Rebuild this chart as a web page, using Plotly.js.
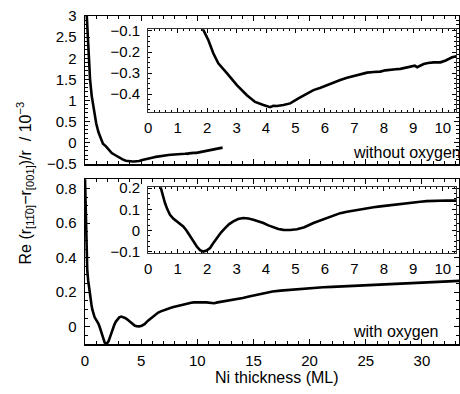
<!DOCTYPE html>
<html>
<head>
<meta charset="utf-8">
<script src="https://cdn.plot.ly/plotly-3.0.1.min.js"></script>
<style>html,body{margin:0;padding:0;background:#fff;}#chart{width:460px;height:394px;}</style>
</head>
<body>
<div id="chart"></div>
<script>
// Without oxygen: Ni thickness (ML) and Re signal (10^-3)
const noOxThickness = [0.15,0.25,0.35,0.45,0.6,0.8,1.0,1.2,1.4,1.6,1.87,2.04,2.21,2.38,2.67,3.01,3.35,3.63,3.91,4.14,4.25,4.37,4.59,4.82,5.10,5.35,5.61,5.85,6.07,6.3,6.52,6.75,6.97,7.2,7.43,7.65,7.88,8.05,8.22,8.4,8.56,8.75,8.90,9.05,9.13,9.25,9.35,9.5,9.69,9.92,10.1,10.32,10.6,11.0,11.5,12.0,12.25];
const noOxSignal = [3.05,2.5,2.0,1.5,1.1,0.72,0.45,0.24,0.08,-0.03,-0.095,-0.143,-0.206,-0.254,-0.30,-0.357,-0.405,-0.437,-0.452,-0.462,-0.455,-0.456,-0.452,-0.444,-0.42,-0.40,-0.381,-0.37,-0.357,-0.345,-0.333,-0.322,-0.314,-0.305,-0.298,-0.295,-0.293,-0.287,-0.283,-0.282,-0.28,-0.274,-0.27,-0.265,-0.272,-0.262,-0.257,-0.252,-0.249,-0.249,-0.24,-0.225,-0.215,-0.195,-0.17,-0.145,-0.125];

// With oxygen
const oxThickness = [0.0,0.05,0.1,0.15,0.2,0.28,0.35,0.43,0.5,0.57,0.65,0.74,0.85,0.97,1.08,1.19,1.3,1.42,1.55,1.65,1.76,1.87,1.98,2.1,2.2,2.33,2.47,2.61,2.75,2.89,3.05,3.23,3.4,3.57,3.75,3.91,4.08,4.25,4.42,4.59,4.82,5.05,5.3,5.61,5.85,6.07,6.3,6.52,6.75,6.97,7.2,7.43,7.65,7.88,8.1,8.33,8.55,8.79,9.0,9.24,9.45,9.69,9.9,10.15,10.37,10.8,11.2,11.5,11.8,12.3,12.86,13.5,14.05,14.6,15.24,16.0,16.7,17.4,18.2,19.0,19.7,20.5,21.2,22.0,22.7,23.5,24.2,25.0,25.7,26.4,27.1,27.9,28.6,29.4,30.1,30.9,31.6,32.4,33.1,33.4];
const oxSignal = [0.86,0.7,0.52,0.4,0.33,0.27,0.23,0.2,0.16,0.13,0.1,0.074,0.056,0.043,0.032,0.019,0.0,-0.028,-0.055,-0.076,-0.093,-0.1,-0.095,-0.083,-0.062,-0.036,-0.01,0.011,0.03,0.043,0.054,0.059,0.057,0.051,0.043,0.035,0.024,0.014,0.007,0.003,0.002,0.006,0.015,0.035,0.048,0.059,0.071,0.082,0.089,0.095,0.101,0.106,0.11,0.114,0.118,0.122,0.125,0.13,0.132,0.136,0.139,0.141,0.142,0.142,0.141,0.141,0.14,0.136,0.141,0.146,0.152,0.158,0.166,0.175,0.185,0.195,0.204,0.209,0.214,0.219,0.224,0.227,0.229,0.231,0.233,0.235,0.237,0.239,0.241,0.243,0.245,0.247,0.249,0.25,0.252,0.255,0.258,0.261,0.264,0.266];

const labels = {
  yTitle: 'Re (r<sub>[11\u03050]</sub>\u2212r<sub>[001]</sub>)/r  / 10<sup>\u22123</sup>',
  xTitle: 'Ni thickness (ML)',
  noOx: 'without oxygen',
  ox: 'with oxygen'
};

const FONT = 'Liberation Sans, Arial, Helvetica, sans-serif';
const line = {color: '#000', width: 2.6};

const traces = [
  {x: noOxThickness, y: noOxSignal, xaxis: 'x', yaxis: 'y', mode: 'lines', line: line, hoverinfo: 'skip'},
  {x: oxThickness, y: oxSignal, xaxis: 'x2', yaxis: 'y2', mode: 'lines', line: line, hoverinfo: 'skip'},
  {x: noOxThickness, y: noOxSignal, xaxis: 'x3', yaxis: 'y3', mode: 'lines', line: line, hoverinfo: 'skip'},
  {x: oxThickness, y: oxSignal, xaxis: 'x4', yaxis: 'y4', mode: 'lines', line: line, hoverinfo: 'skip'}
];

function mainAx(extra) {
  return Object.assign({
    showline: true, linecolor: '#000', linewidth: 1.5, mirror: 'allticks',
    ticks: 'inside', ticklen: 5, tickwidth: 1, tickcolor: '#000',
    showgrid: false, zeroline: false,
    tickfont: {family: FONT, size: 15, color: '#000'},
    minor: {ticks: 'inside', ticklen: 3, tickcolor: '#000', showgrid: false}
  }, extra);
}
function insetAx(extra) {
  return Object.assign({
    showline: true, linecolor: '#333', linewidth: 1, mirror: 'allticks',
    ticks: 'inside', ticklen: 4, tickwidth: 1, tickcolor: '#000',
    showgrid: false, zeroline: false,
    tickfont: {family: FONT, size: 15, color: '#000'},
    minor: {ticks: 'inside', ticklen: 2, tickcolor: '#000', showgrid: false}
  }, extra);
}

const layout = {
  width: 460, height: 394,
  margin: {l: 85, r: 1, t: 16, b: 50},
  paper_bgcolor: '#fff', plot_bgcolor: '#fff',
  showlegend: false,
  font: {family: FONT, size: 15, color: '#000'},
  xaxis: mainAx({domain: [0, 1], anchor: 'y', range: [0, 33.3], dtick: 5, showticklabels: false, minor: {ticks: 'inside', ticklen: 3, dtick: 1, tickcolor: '#000'}}),
  yaxis: mainAx({domain: [0.548, 1], anchor: 'x', range: [-0.52, 3.005], dtick: 0.5, ticklabelstandoff: 4, minor: {ticks: 'inside', ticklen: 3, dtick: 0.1, tickcolor: '#000'}}),
  xaxis2: mainAx({domain: [0, 1], anchor: 'y2', range: [0, 33.3], dtick: 5, ticklabelstandoff: 2, minor: {ticks: 'inside', ticklen: 3, dtick: 1, tickcolor: '#000'}}),
  yaxis2: mainAx({domain: [0, 0.5026], anchor: 'x2', range: [-0.1, 0.855], dtick: 0.2, ticklabelstandoff: 4, minor: {ticks: 'inside', ticklen: 3, dtick: 0.05, tickcolor: '#000'}}),
  xaxis3: insetAx({domain: [0.169, 0.992], anchor: 'y3', range: [0, 10.45], dtick: 1, ticklabelstandoff: 2, minor: {ticks: 'inside', ticklen: 2, dtick: 0.2, tickcolor: '#000'}}),
  yaxis3: insetAx({domain: [0.7085, 0.9595], anchor: 'x3', range: [-0.483, -0.092], dtick: 0.1, tick0: 0, ticklabelstandoff: 4, minor: {ticks: 'inside', ticklen: 2, dtick: 0.025, tickcolor: '#000'}}),
  xaxis4: insetAx({domain: [0.169, 0.992], anchor: 'y4', range: [0, 10.45], dtick: 1, ticklabelstandoff: 2, minor: {ticks: 'inside', ticklen: 2, dtick: 0.2, tickcolor: '#000'}}),
  yaxis4: insetAx({domain: [0.2772, 0.4782], anchor: 'x4', range: [-0.107, 0.205], dtick: 0.1, tick0: 0, ticklabelstandoff: 4, minor: {ticks: 'inside', ticklen: 2, dtick: 0.025, tickcolor: '#000'}}),
  annotations: [
    {text: labels.yTitle, xref: 'paper', yref: 'paper', x: -0.16, y: 0.49, textangle: -90, showarrow: false, xanchor: 'center', yanchor: 'middle', font: {family: FONT, size: 16, color: '#000'}},
    {text: labels.xTitle, xref: 'paper', yref: 'paper', x: 0.513, y: -0.1026, showarrow: false, xanchor: 'center', yanchor: 'middle', font: {family: FONT, size: 16, color: '#000'}},
    {text: labels.noOx, xref: 'paper', yref: 'paper', x: 0.712, y: 0.583, showarrow: false, xanchor: 'left', yanchor: 'middle', font: {family: FONT, size: 16, color: '#000'}},
    {text: labels.ox, xref: 'paper', yref: 'paper', x: 0.712, y: 0.0375, showarrow: false, xanchor: 'left', yanchor: 'middle', font: {family: FONT, size: 16, color: '#000'}}
  ]
};

Plotly.newPlot('chart', traces, layout, {displayModeBar: false, staticPlot: true});
</script>
</body>
</html>
